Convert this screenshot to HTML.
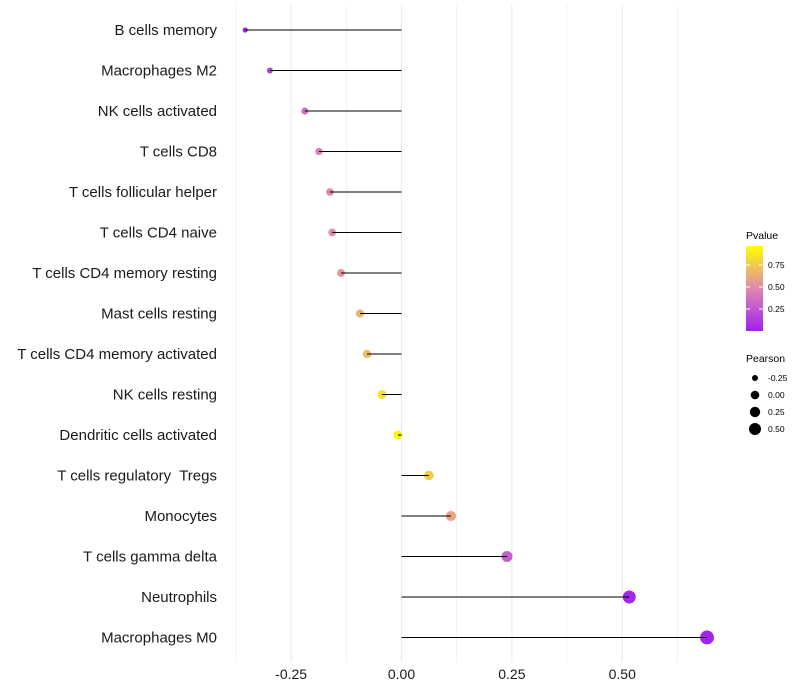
<!DOCTYPE html>
<html><head><meta charset="utf-8"><style>
body{margin:0;background:#fff;}
svg{display:block;font-family:"Liberation Sans",Arial,sans-serif;}
text{white-space:pre;}
</style></head><body>
<svg id="chart" width="800" height="700">
<defs><linearGradient id="pg" x1="0" y1="1" x2="0" y2="0">
<stop offset="0" stop-color="#a020f0"/><stop offset="0.5" stop-color="#df88b0"/><stop offset="1" stop-color="#ffff00"/>
</linearGradient></defs>
<g id="grid"></g><g id="marks"></g><g id="labels"></g><g id="xticks"></g>
<g id="legend">
<text x="746" y="239" font-size="10.5">Pvalue</text>
<rect x="746" y="246" width="17" height="85" fill="url(#pg)"/>
<g id="cbticks"></g>
<text x="746" y="362" font-size="10.5">Pearson</text>
<g id="sizeleg"></g>
</g>
</svg>
<script>
const categories=["B cells memory","Macrophages M2","NK cells activated","T cells CD8","T cells follicular helper","T cells CD4 naive","T cells CD4 memory resting","Mast cells resting","T cells CD4 memory activated","NK cells resting","Dendritic cells activated","T cells regulatory  Tregs","Monocytes","T cells gamma delta","Neutrophils","Macrophages M0"];
const pearson=[-0.354,-0.298,-0.219,-0.187,-0.162,-0.157,-0.137,-0.094,-0.078,-0.044,-0.008,0.062,0.112,0.239,0.516,0.692];
const pvalue=[0.02,0.15,0.38,0.45,0.5,0.5,0.56,0.68,0.72,0.86,0.97,0.8,0.62,0.3,0.03,0.02];
const xTicks=[-0.25,0,0.25,0.5];
const xTickLabels=["-0.25","0.00","0.25","0.50"];
const cbTicks=[0.25,0.5,0.75];
const sizeLegend=[-0.25,0,0.25,0.5];
const NS="http://www.w3.org/2000/svg";
const x=v=>401.5+v*441.5;
const y=i=>30+i*40.5;
const r=v=>Math.sqrt(Math.max(1,21+40*v));
function lerp(a,b,t){return a.map((c,k)=>Math.round(c+(b[k]-c)*t));}
function col(p){const a=[160,32,240],m=[223,136,176],b=[255,255,0];const c=p<0.5?lerp(a,m,p/0.5):lerp(m,b,(p-0.5)/0.5);return `rgb(${c})`;}
function mk(tag,attrs,parent,text){const e=document.createElementNS(NS,tag);for(const k in attrs)e.setAttribute(k,attrs[k]);if(text!==undefined)e.textContent=text;document.getElementById(parent).appendChild(e);return e;}
[-0.375,-0.25,-0.125,0,0.125,0.25,0.375,0.5,0.625].forEach(v=>{
const g=mk('line',{x1:x(v),x2:x(v),y1:5,y2:662,stroke:'#ebebeb','stroke-width':v*8%2===0?1.1:0.6},'grid');

});
categories.forEach((c,i)=>{
const t=mk('text',{x:217,y:y(i)+5,'font-size':15,'text-anchor':'end',fill:'#1a1a1a'},'labels',c);


const pt=mk('circle',{cx:x(pearson[i]),cy:y(i),r:r(pearson[i]),fill:col(pvalue[i])},'marks');


const ln=mk('line',{x1:x(0),x2:x(pearson[i]),y1:y(i),y2:y(i),stroke:'#000','stroke-width':1.1},'marks');

});
xTicks.forEach((v,i)=>{
const t=mk('text',{x:x(v),y:679,'font-size':14,'text-anchor':'middle',fill:'#1a1a1a'},'xticks',xTickLabels[i]);

});
cbTicks.forEach(v=>{
const yy=331-v*88;
mk('line',{x1:746,x2:750,y1:yy,y2:yy,stroke:'#fff'},'cbticks');
mk('line',{x1:759,x2:763,y1:yy,y2:yy,stroke:'#fff'},'cbticks');
const t=mk('text',{x:768,y:yy+3,'font-size':8.5},'cbticks',v.toFixed(2));

});
const legR=[3,4.3,5.2,6];
sizeLegend.forEach((v,i)=>{
const yy=378+i*17;
const c=mk('circle',{cx:755,cy:yy,r:legR[i],fill:'#000'},'sizeleg');


const t=mk('text',{x:768,y:yy+3,'font-size':8.5},'sizeleg',v.toFixed(2));

});
</script>
</body></html>
